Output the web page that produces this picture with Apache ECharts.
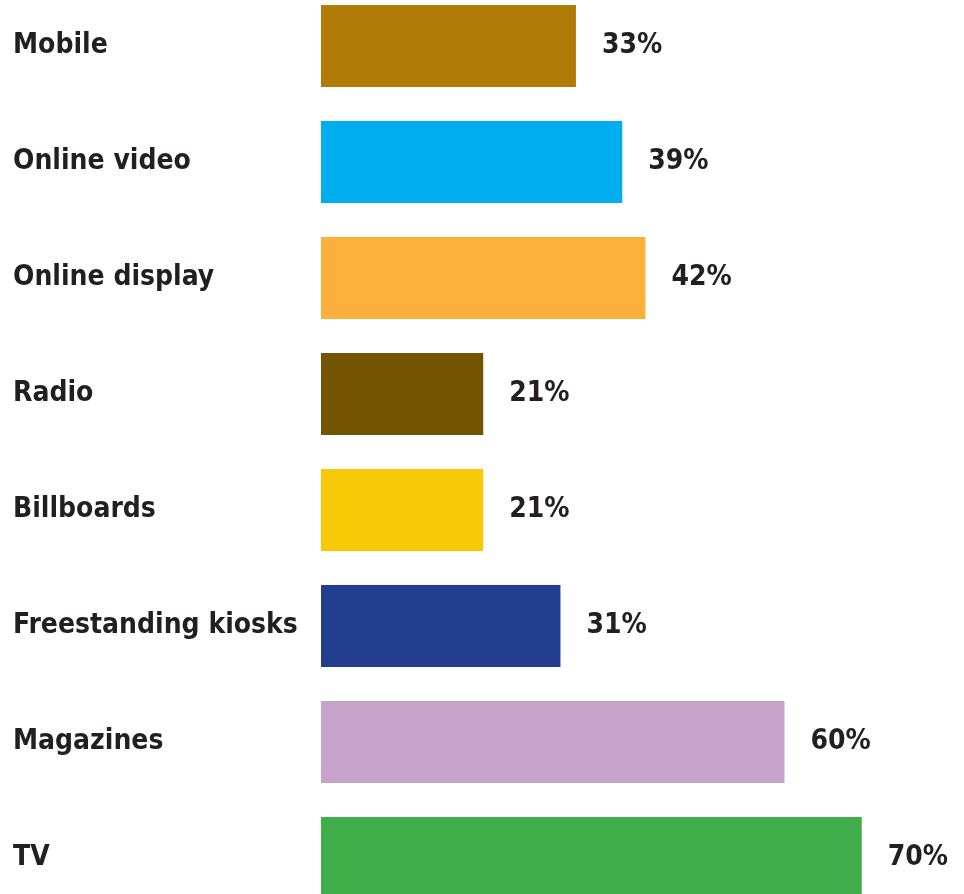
<!DOCTYPE html>
<html>
<head>
<meta charset="utf-8">
<script src="https://cdn.jsdelivr.net/npm/echarts@6/dist/echarts.min.js"></script>
<style>
html,body{margin:0;padding:0;background:#fff;}
#chart{width:964px;height:894px;}
</style>
</head>
<body>
<div id="chart"></div>
<script>
const categories = ["Mobile", "Online video", "Online display", "Radio", "Billboards", "Freestanding kiosks", "Magazines", "TV"];
const values = [33, 39, 42, 21, 21, 31, 60, 70];
const colors = ["#b07c05", "#00aeef", "#fbb03b", "#735400", "#f7c906", "#243e8f", "#c7a2cb", "#40ae4a"];

const FONT = "'Liberation Sans Narrow', 'DejaVu Sans Condensed', Arial, sans-serif";
const chart = echarts.init(document.getElementById('chart'));
chart.setOption({
  animation: false,
  backgroundColor: '#ffffff',
  grid: { left: 321, top: -12, width: 618, height: 928, containLabel: false, outerBoundsMode: 'none' },
  xAxis: {
    type: 'value', min: 0, max: 80,
    show: false
  },
  yAxis: {
    type: 'category', data: categories, inverse: true,
    axisLine: { show: false }, axisTick: { show: false }, splitLine: { show: false },
    axisLabel: {
      align: 'left', margin: 308,
      fontFamily: FONT, fontWeight: 'bold', fontSize: 28, color: '#231f20',
      padding: [0, 0, 8, 0]
    }
  },
  series: [{
    type: 'bar',
    barWidth: 82,
    data: values.map((v, i) => ({ value: v, itemStyle: { color: colors[i] } })),
    label: {
      show: true, position: 'right', distance: 26,
      formatter: '{c}%',
      fontFamily: FONT, fontWeight: 'bold', fontSize: 28, color: '#231f20',
      padding: [0, 0, 6, 0]
    }
  }]
});
</script>
</body>
</html>
